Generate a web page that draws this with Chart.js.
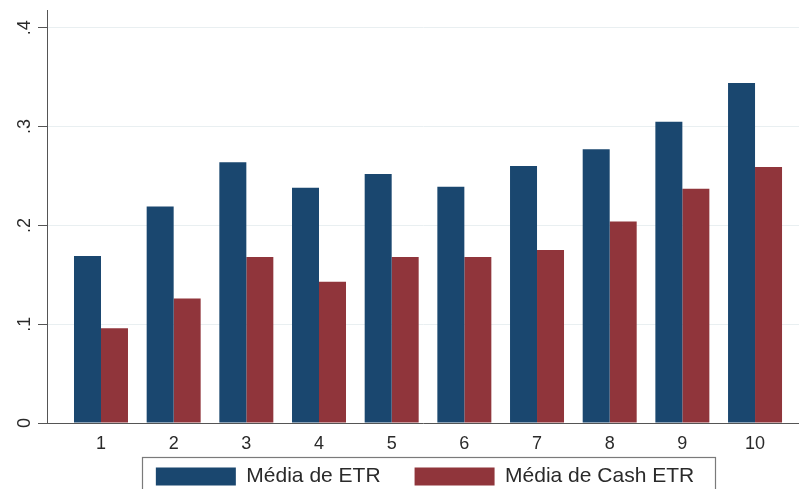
<!DOCTYPE html>
<html>
<head>
<meta charset="utf-8">
<script src="https://cdn.jsdelivr.net/npm/chart.js@4/dist/chart.umd.min.js"></script>
<style>
  html, body { margin: 0; padding: 0; background: #fff; }
  #wrap { width: 799px; height: 489px; position: relative; }
</style>
</head>
<body>
<div id="wrap"><canvas id="c" width="799" height="489"></canvas></div>
<script>
// ---- data ----
const categories = [1, 2, 3, 4, 5, 6, 7, 8, 9, 10];
const mediaETR = [0.169, 0.219, 0.264, 0.238, 0.252, 0.239, 0.260, 0.277, 0.305, 0.344];
const mediaCashETR = [0.096, 0.126, 0.168, 0.143, 0.168, 0.168, 0.175, 0.204, 0.237, 0.259];
const seriesNames = ['Média de ETR', 'Média de Cash ETR'];
const yTickValues = [0, 0.1, 0.2, 0.3, 0.4];
const yTickLabels = ['0', '.1', '.2', '.3', '.4'];

const FONT = "'Liberation Sans', Arial, sans-serif";
const TEXT = '#2a2a2a';

const legendTweak = {
  id: 'legendTweak',
  afterLayout(chart) {
    const lg = chart.legend;
    const dx = 25.5;
    const newTop = 432;
    lg.left += dx; lg.right += dx;
    lg.top = newTop; lg.bottom = 600;
  },
  afterDraw(chart) {
    const lg = chart.legend;
    const hb = lg.legendHitBoxes;
    if (!hb || !hb.length) return;
    const pad = lg.options.labels.padding;
    const x0 = hb[0].left - 14;
    const last = hb[hb.length - 1];
    const x1 = last.left + last.width + 21;
    const yc = lg.top + pad + 10.5;
    const y0 = yc - 20;
    const ctx = chart.ctx;
    ctx.save();
    ctx.strokeStyle = '#7a7a7a';
    ctx.lineWidth = 1.2;
    ctx.strokeRect(Math.round(x0) + 0.5, Math.round(y0) + 0.5, Math.round(x1 - x0), 60);
    ctx.restore();
  }
};

const toPoints = arr => arr.map((v, i) => ({ x: categories[i], y: v }));

new Chart(document.getElementById('c'), {
  type: 'bar',
  data: {
    datasets: [
      { label: seriesNames[0], data: toPoints(mediaETR), backgroundColor: '#1a476f', borderWidth: 0 },
      { label: seriesNames[1], data: toPoints(mediaCashETR), backgroundColor: '#90353b', borderWidth: 0 }
    ]
  },
  options: {
    responsive: false,
    animation: false,
    devicePixelRatio: 1,
    categoryPercentage: 0.743,
    barPercentage: 1.0,
    layout: { padding: { top: 10, right: 0, left: 0, bottom: 0 } },
    plugins: {
      tooltip: { enabled: false },
      legend: {
        position: 'bottom',
        maxHeight: 36,
        labels: {
          boxWidth: 80,
          boxHeight: 18,
          padding: 34,
          color: TEXT,
          font: { family: FONT, size: 21 }
        }
      }
    },
    scales: {
      x: {
        type: 'linear',
        min: 0.257,
        max: 10.605,
        offset: false,
        afterBuildTicks: s => { s.ticks = categories.map(v => ({ value: v })); },
        afterFit: s => { s.height = 30; s.paddingLeft = 0; s.paddingRight = 0; },
        grid: { display: false, offset: false },
        border: { display: true, color: '#555', width: 1 },
        ticks: {
          padding: 2,
          color: TEXT,
          font: { family: FONT, size: 18 },
          autoSkip: false,
          maxRotation: 0,
          minRotation: 0,
          callback: v => String(v)
        }
      },
      y: {
        min: 0,
        max: 0.418,
        afterBuildTicks: s => { s.ticks = yTickValues.map(v => ({ value: v })); },
        afterFit: s => { s.width = 47; s.paddingTop = 0; s.paddingBottom = 0; },
        grid: {
          color: ctx => (ctx.tick && ctx.tick.value === 0) ? 'rgba(0,0,0,0)' : '#e9eff1',
          lineWidth: 1,
          drawTicks: true,
          tickLength: 9,
          tickColor: '#555'
        },
        border: { display: true, color: '#555', width: 1 },
        ticks: {
          padding: 5,
          crossAlign: 'center',
          minRotation: 90,
          maxRotation: 90,
          color: TEXT,
          font: { family: FONT, size: 18 },
          callback: (v, i) => yTickLabels[yTickValues.indexOf(v)] ?? ''
        }
      }
    }
  },
  plugins: [legendTweak]
});
</script>
</body>
</html>
